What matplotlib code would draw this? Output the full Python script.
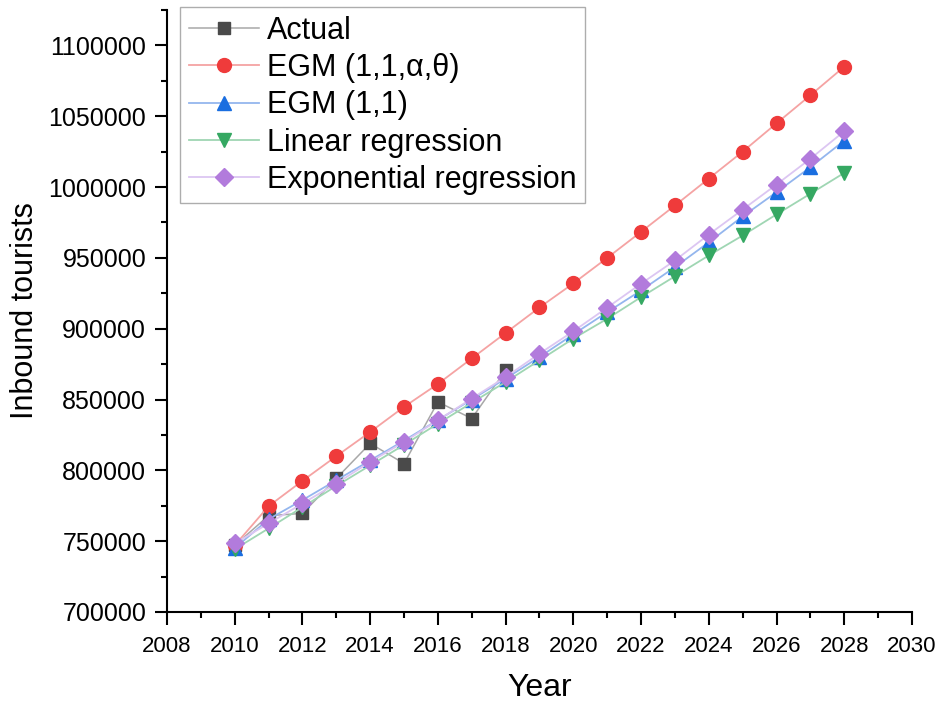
import matplotlib.pyplot as plt
from matplotlib.ticker import MultipleLocator, FuncFormatter
import numpy as np

plt.rcParams['font.family'] = ['Liberation Sans', 'DejaVu Sans']

# years
years_actual = np.arange(2010, 2019)
years_all = np.arange(2010, 2029)

actual = [747000, 768000, 769600, 794300, 819000, 804800, 848300, 836600, 870700]

egm_ext = [747000, 774700, 792600, 810000, 827100, 844800, 861000, 879000, 897000,
           915000, 932000, 950000, 968400, 987000, 1006000, 1025000, 1045000, 1064800, 1085000]

egm11 = [745000, 765500, 779000, 793000, 807000, 821000, 835500, 850000, 864800,
         880000, 896000, 911700, 927000, 943500, 961000, 979300, 996400, 1014000, 1032800]

linear = [744300, 759000, 774000, 789000, 803500, 818000, 833000, 847700, 862400,
          877700, 893000, 907000, 922300, 937000, 951700, 965800, 980700, 995300, 1010000]

expo = [748400, 762500, 776600, 790700, 806000, 820000, 835400, 850700, 865900,
        882400, 898200, 914900, 931800, 948200, 966500, 984100, 1001800, 1020000, 1039400]

fig = plt.figure(figsize=(9.44, 7.04), dpi=100)
ax = fig.add_axes([0.1769, 0.1307, 0.7892, 0.8551])

ax.plot(years_actual, actual, color='#a8a8a8', lw=1.1, marker='s', ms=9,
        mfc='#4a4a4a', mec='#4a4a4a', label='Actual')
ax.plot(years_all, egm_ext, color='#f5a3a3', lw=1.3, marker='o', ms=10,
        mfc='#ef3b3b', mec='#ef3b3b', label='EGM (1,1,α,θ)')
ax.plot(years_all, egm11, color='#94b6ee', lw=1.3, marker='^', ms=10,
        mfc='#1a6ee0', mec='#1a6ee0', label='EGM (1,1)')
ax.plot(years_all, linear, color='#9fd6b3', lw=1.3, marker='v', ms=10,
        mfc='#35a862', mec='#35a862', label='Linear regression')
ax.plot(years_all, expo, color='#dcc6f2', lw=1.3, marker='D', ms=9,
        mfc='#b27bdc', mec='#b27bdc', label='Exponential regression')

ax.set_xlim(2008, 2030)
ax.set_ylim(700000, 1125000)
ax.xaxis.set_major_locator(MultipleLocator(2))
ax.xaxis.set_minor_locator(MultipleLocator(1))
ax.yaxis.set_major_locator(MultipleLocator(50000))
ax.yaxis.set_minor_locator(MultipleLocator(25000))
ax.yaxis.set_major_formatter(FuncFormatter(lambda v, p: '%d' % v))

for s in ['top', 'right']:
    ax.spines[s].set_visible(False)
for s in ['left', 'bottom']:
    ax.spines[s].set_linewidth(1.5)

ax.tick_params(which='major', direction='out', length=9, width=1.5, pad=6)
ax.tick_params(which='minor', direction='out', length=4.5, width=1.5)
ax.tick_params(axis='y', labelsize=18)
ax.tick_params(axis='x', labelsize=16, pad=8)

ax.set_xlabel('Year', fontsize=23, labelpad=12)
ax.set_ylabel('Inbound tourists', fontsize=22, labelpad=6)

leg = ax.legend(loc='upper left', bbox_to_anchor=(0.018, 1.005), fontsize=22,
                frameon=True, fancybox=False, edgecolor='#999999',
                handlelength=2.3, handletextpad=0.25, labelspacing=0.24,
                borderpad=0.28, borderaxespad=0)
leg.get_frame().set_linewidth(1.0)

fig.savefig('out.png', dpi=100)
